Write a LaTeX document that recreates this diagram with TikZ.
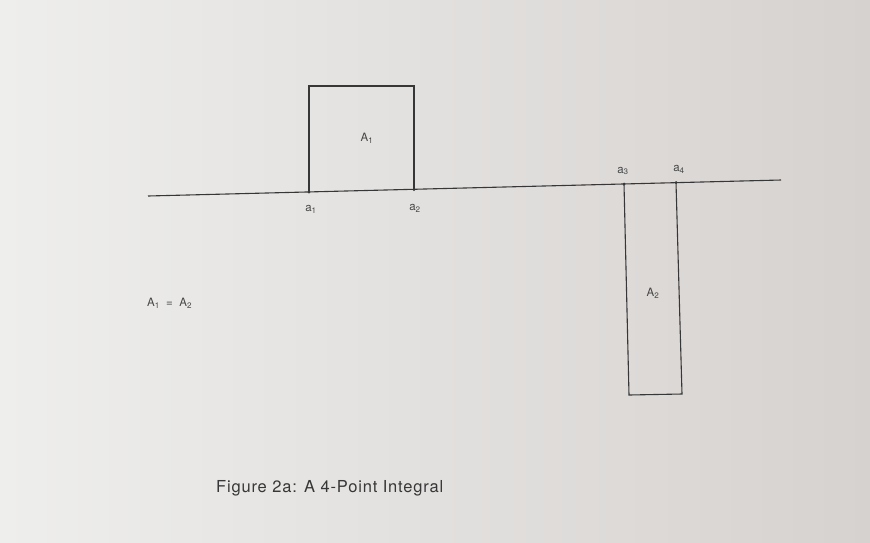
\documentclass[tikz,border=0pt]{standalone}
\usepackage{fontspec}
\setmainfont{TeX Gyre Heros}
\newfontfamily\capfont[LetterSpace=5]{TeX Gyre Heros}
\definecolor{paperL}{RGB}{238,238,236}
\definecolor{paperR}{RGB}{214,210,208}
\definecolor{ink}{RGB}{55,55,55}
\definecolor{txt}{RGB}{70,70,70}
\begin{document}
\begin{tikzpicture}[x=1pt,y=-1pt,
  edge/.style={draw=ink,line width=1.1pt},
  lbl/.style={text=txt,font=\fontsize{11.5}{13}\selectfont,inner sep=0pt},
  pt/.style={circle,fill=ink,inner sep=0pt,minimum size=3pt}]
\useasboundingbox (0,0) rectangle (870,542);
\shade[left color=paperL,right color=paperR] (0,0) rectangle (870,542);
% axis
\coordinate (L) at (148,196);
\coordinate (R) at (781,180);
\node[pt] (a1) at (309,192) {};
\node[pt] (a2) at (414,189.5) {};
\node[pt] (a3) at (624,184) {};
\node[pt] (a4) at (676,182.5) {};
\draw[edge] (L) -- (R);
% box A1
\coordinate (t1) at (309,86);
\coordinate (t2) at (414,86);
\draw[edge] (a1.center) -- (t1) -- (t2) -- (a2.center);
% box A2
\coordinate (b3) at (629,395);
\coordinate (b4) at (682,394);
\draw[edge] (a3.center) -- (b3) -- (b4) -- (a4.center);
% labels
\node[lbl] (A1) at (367,138) {A\textsubscript{1}};
\node[lbl] (A2) at (653,293) {A\textsubscript{2}};
\node[lbl] (la1) at (311,209) {a\textsubscript{1}};
\node[lbl] (la2) at (415,208) {a\textsubscript{2}};
\node[lbl] (la3) at (623,171) {a\textsubscript{3}};
\node[lbl] (la4) at (679,169) {a\textsubscript{4}};
\node[lbl,anchor=west] (eq) at (147,303) {A\textsubscript{1}\ \ =\ \ A\textsubscript{2}};
\node[lbl,anchor=west,font=\capfont\fontsize{16.5}{18}\selectfont,text=ink] (cap) at (216,488) {Figure 2a: A 4-Point Integral};
\end{tikzpicture}
\end{document}
